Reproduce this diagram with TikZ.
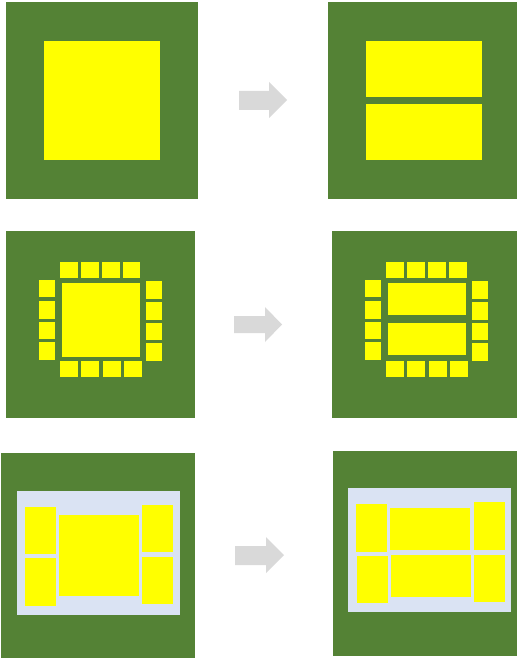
\documentclass[tikz,border=0pt]{standalone}
\definecolor{board}{RGB}{84,130,53}
\definecolor{chip}{RGB}{255,255,0}
\definecolor{panel}{RGB}{218,227,243}
\definecolor{arrowgray}{RGB}{217,217,217}
\tikzset{
  boardfill/.style={fill=board},
  chipfill/.style={fill=chip},
  panelfill/.style={fill=panel},
  arrowfill/.style={fill=arrowgray},
}
% \R{style}{x1}{y1}{x2}{y2} in pixel coordinates
\newcommand{\R}[5]{\fill[#1] (#2,#3) rectangle (#4,#5);}
% \BA{x0}{xh}{xt}{yb1}{yb2}{yh1}{yh2}
\newcommand{\BA}[7]{\fill[arrowfill] (#1,#4) -- (#2,#4) -- (#2,#6) -- (#3,{(#6+#7)/2}) -- (#2,#7) -- (#2,#5) -- (#1,#5) -- cycle;}
\begin{document}
\begin{tikzpicture}[x=1pt,y=-1pt]
\useasboundingbox (0,0) rectangle (517,658);
% ---------- Row 1 ----------
\R{boardfill}{6}{2}{198}{199}
\R{chipfill}{44}{41}{160}{160}
\BA{239}{269}{287}{91}{110}{82}{118}
\R{boardfill}{328}{2}{517}{199}
\R{chipfill}{366}{41}{482}{97}
\R{chipfill}{366}{104}{482}{160}
% ---------- Row 2 ----------
\R{boardfill}{6}{231}{195}{418}
\R{chipfill}{62}{283}{140}{357}
% top pads
\R{chipfill}{60}{262}{78}{278}
\R{chipfill}{81}{262}{99}{278}
\R{chipfill}{102}{262}{120}{278}
\R{chipfill}{123}{262}{140}{278}
% bottom pads
\R{chipfill}{60}{361}{78}{377}
\R{chipfill}{81}{361}{99}{377}
\R{chipfill}{103}{361}{121}{377}
\R{chipfill}{124}{361}{142}{377}
% left pads
\R{chipfill}{39}{280}{55}{297}
\R{chipfill}{39}{301}{55}{319}
\R{chipfill}{39}{322}{55}{339}
\R{chipfill}{39}{342}{55}{360}
% right pads
\R{chipfill}{146}{281}{162}{299}
\R{chipfill}{146}{302}{162}{320}
\R{chipfill}{146}{323}{162}{340}
\R{chipfill}{146}{343}{162}{361}
\BA{234}{265}{282}{316}{333}{307}{342}
\R{boardfill}{332}{231}{517}{418}
\R{chipfill}{388}{283}{466}{315}
\R{chipfill}{388}{323}{466}{355}
% top pads
\R{chipfill}{386}{262}{404}{278}
\R{chipfill}{407}{262}{425}{278}
\R{chipfill}{428}{262}{446}{278}
\R{chipfill}{449}{262}{467}{278}
% bottom pads
\R{chipfill}{386}{361}{404}{377}
\R{chipfill}{407}{361}{425}{377}
\R{chipfill}{429}{361}{447}{377}
\R{chipfill}{450}{361}{468}{377}
% left pads
\R{chipfill}{365}{280}{381}{297}
\R{chipfill}{365}{301}{381}{319}
\R{chipfill}{365}{322}{381}{339}
\R{chipfill}{365}{342}{381}{360}
% right pads
\R{chipfill}{472}{281}{488}{299}
\R{chipfill}{472}{302}{488}{320}
\R{chipfill}{472}{323}{488}{340}
\R{chipfill}{472}{343}{488}{361}
% ---------- Row 3 ----------
\R{boardfill}{1}{453}{195}{658}
\R{panelfill}{17}{491}{180}{615}
\R{chipfill}{25}{507}{56}{554}
\R{chipfill}{25}{558}{56}{606}
\R{chipfill}{59}{515}{139}{596}
\R{chipfill}{142}{505}{173}{552}
\R{chipfill}{142}{557}{173}{604}
\BA{235}{266}{284}{546}{565}{537}{573}
\R{boardfill}{333}{451}{517}{656}
\R{panelfill}{348}{488}{511}{612}
\R{chipfill}{356}{504}{387}{552}
\R{chipfill}{357}{556}{388}{603}
\R{chipfill}{390}{508}{470}{550}
\R{chipfill}{391}{555}{471}{597}
\R{chipfill}{474}{502}{505}{550}
\R{chipfill}{474}{555}{505}{602}
\end{tikzpicture}
\end{document}
